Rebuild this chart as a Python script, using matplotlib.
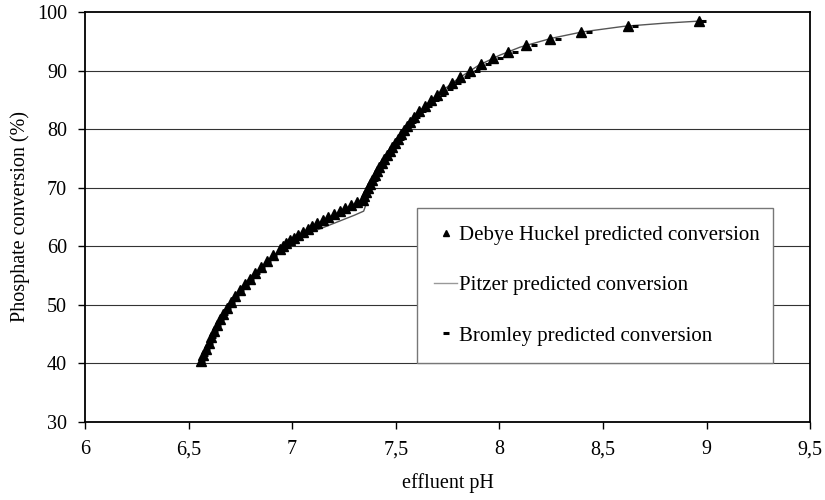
import numpy as np
import matplotlib
matplotlib.use('Agg')
import matplotlib.pyplot as plt

plt.rcParams['font.family'] = ['Liberation Serif', 'DejaVu Serif']

# conversion levels (%) shared by the Debye Huckel and Bromley points
conversion = [40.5, 41.5, 42.5, 43.5, 44.5, 45.5, 46.5, 47.5, 48.5, 49.5,
              50.5, 51.5, 52.5, 53.5, 54.5, 55.5, 56.5, 57.5, 58.5, 59.5,
              60.0, 60.5, 61.0, 61.5, 62.0, 62.5, 63.0, 63.5, 64.0, 64.5,
              65.0, 65.5, 66.0, 66.5, 67.0, 67.5, 67.9,
              68.6, 69.3, 70.0, 70.7, 71.4, 72.1, 72.8, 73.5, 74.2, 74.9,
              75.6, 76.3, 77.0, 77.7, 78.4, 79.1, 79.8, 80.5, 81.2, 82.1,
              83.1, 84.0, 85.0, 85.9, 86.9, 87.9, 88.9, 90.0, 91.1, 92.1,
              93.2, 94.3, 95.4, 96.6, 97.6, 98.5]

ph_debye = [6.560, 6.572, 6.584, 6.597, 6.610, 6.623, 6.637, 6.652, 6.668, 6.685,
            6.704, 6.724, 6.746, 6.770, 6.795, 6.822, 6.849, 6.878, 6.907, 6.939,
            6.955, 6.972, 6.990, 7.010, 7.030, 7.052, 7.075, 7.097, 7.120, 7.147,
            7.175, 7.202, 7.230, 7.257, 7.285, 7.315, 7.340,
            7.348, 7.356, 7.365, 7.376, 7.387, 7.398, 7.410, 7.421, 7.433, 7.445,
            7.457, 7.470, 7.483, 7.496, 7.510, 7.524, 7.538, 7.553, 7.569, 7.590,
            7.613, 7.640, 7.670, 7.700, 7.730, 7.770, 7.810, 7.860, 7.910, 7.970,
            8.040, 8.130, 8.245, 8.395, 8.620, 8.965]

ph_bromley = [6.566, 6.578, 6.590, 6.603, 6.616, 6.629, 6.643, 6.658, 6.674, 6.691,
              6.710, 6.730, 6.752, 6.776, 6.801, 6.828, 6.855, 6.884, 6.913, 6.945,
              6.963, 6.980, 6.998, 7.018, 7.038, 7.060, 7.083, 7.105, 7.128, 7.155,
              7.183, 7.210, 7.238, 7.265, 7.293, 7.323, 7.348,
              7.362, 7.370, 7.379, 7.390, 7.401, 7.412, 7.424, 7.435, 7.447, 7.459,
              7.471, 7.484, 7.497, 7.510, 7.524, 7.538, 7.552, 7.567, 7.583, 7.604,
              7.630, 7.660, 7.695, 7.727, 7.760, 7.800, 7.843, 7.893, 7.943, 8.003,
              8.075, 8.165, 8.282, 8.435, 8.655, 8.985]

ph_pitzer = [6.556, 6.60, 6.65, 6.70, 6.75, 6.80, 6.85, 6.90, 6.95, 7.00,
             7.05, 7.10, 7.15, 7.20, 7.25, 7.30, 7.345, 7.36, 7.38, 7.40,
             7.45, 7.50, 7.55, 7.60, 7.65, 7.70, 7.80, 7.90, 8.00, 8.10,
             8.25, 8.40, 8.60, 8.80, 8.99]
conv_pitzer = [40.2, 43.8, 47.3, 50.2, 52.8, 54.7, 56.3, 57.9, 59.4, 60.6,
               61.6, 62.5, 63.2, 63.9, 64.6, 65.3, 66.0, 67.5, 69.8, 72.0,
               75.2, 77.9, 80.4, 82.5, 84.3, 85.9, 88.6, 90.9, 92.6, 94.0,
               95.5, 96.6, 97.55, 98.1, 98.5]

x_ticks = [6, 6.5, 7, 7.5, 8, 8.5, 9, 9.5]
x_tick_labels = ['6', '6,5', '7', '7,5', '8', '8,5', '9', '9,5']
y_ticks = [30, 40, 50, 60, 70, 80, 90, 100]


def plot_conversion():
    fig = plt.figure(figsize=(8.25, 5.0), dpi=100)
    ax = fig.add_axes([0.103, 0.156, 0.879, 0.820])

    for y in y_ticks[1:-1]:
        ax.axhline(y, color='#333333', lw=0.8, zorder=1)

    ax.plot(ph_debye, conversion, linestyle='none', marker='^', ms=6.5,
            color='black', label='Debye Huckel predicted conversion', zorder=3)
    ax.plot(ph_pitzer, conv_pitzer, color='#555555', lw=1.0,
            label='Pitzer predicted conversion', zorder=2)
    ax.plot(ph_bromley, conversion, linestyle='none', marker='_', ms=4.5,
            mew=2.2, color='black', label='Bromley predicted conversion', zorder=3)

    ax.set_xlim(6, 9.5)
    ax.set_ylim(30, 100)
    ax.set_xticks(x_ticks)
    ax.set_xticklabels(x_tick_labels)
    ax.set_yticks(y_ticks)
    ax.tick_params(direction='out', length=5, width=1, labelsize=14.5, pad=8)

    for s in ax.spines.values():
        s.set_linewidth(1.3)
        s.set_color('black')

    ax.set_xlabel('effluent pH', fontsize=14.5, labelpad=10)
    ax.set_ylabel('Phosphate conversion (%)', fontsize=14.5, labelpad=5)

    leg = ax.legend(loc='lower left', bbox_to_anchor=(0.458, 0.144, 0.491, 0.376),
                    mode='expand', fontsize=15, frameon=True, fancybox=False,
                    framealpha=1, edgecolor='#777777', borderpad=0.83,
                    labelspacing=1.47, handlelength=1.1, handletextpad=0.1,
                    borderaxespad=0)
    leg.get_frame().set_linewidth(1.0)
    leg.legend_handles[0].set_markersize(5)
    leg.get_lines()[1].set_color('#999999')

    fig.savefig('out.png', dpi=100)


if __name__ == '__main__':
    plot_conversion()
